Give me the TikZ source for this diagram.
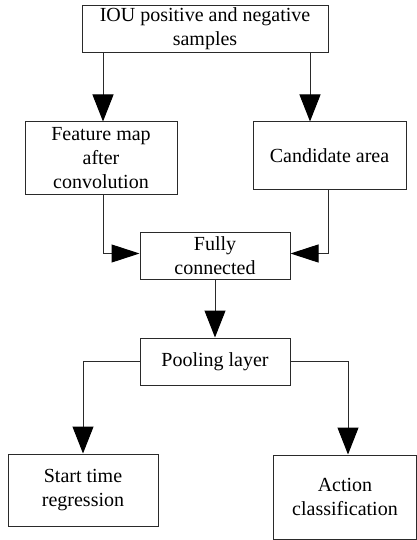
\documentclass[tikz,border=0pt]{standalone}
\usepackage{fontspec}
\setmainfont{Liberation Serif}
\usetikzlibrary{arrows.meta}
\definecolor{edge}{HTML}{2A2A2A}
\begin{document}
\begin{tikzpicture}[x=1pt,y=-1pt,
  box/.style={draw=edge, line width=1pt, align=center, font=\fontsize{20}{24}\selectfont, inner sep=0pt},
  varr/.style={draw=edge, line width=1pt, -{Triangle[width=21pt,length=27pt,color=black]}},
  harr/.style={draw=edge, line width=1pt, -{Triangle[width=18pt,length=28pt,color=black]}}]
\useasboundingbox (0,0) rectangle (417,540);
\node[box, minimum width=246pt, minimum height=47pt] (top) at (205,29) {IOU positive and negative\\samples};
\node[box, minimum width=152pt, minimum height=72pt] (feature) at (101,158) {Feature map\\after\\convolution};
\node[box, minimum width=153pt, minimum height=67pt] (cand) at (329.5,155.5) {Candidate area};
\node[box, minimum width=150pt, minimum height=47pt] (fully) at (215,255.5) {Fully\\connected};
\node[box, minimum width=150pt, minimum height=47pt] (pool) at (215,361.5) {Pooling layer};
\node[box, minimum width=150pt, minimum height=72pt] (start) at (83,490) {Start time\\regression};
\node[box, minimum width=143pt, minimum height=84pt] (action) at (345,497) {Action\\classification};
\draw[varr] ([xshift=-102pt]top.south) coordinate (a1) -- (a1 |- feature.north);
\draw[varr] ([xshift=105pt]top.south) coordinate (a2) -- (a2 |- cand.north);
\draw[harr] ([xshift=2pt]feature.south) |- ([yshift=2pt]fully.west);
\draw[harr] ([xshift=-1.5pt]cand.south) |- ([yshift=2pt]fully.east);
\draw[varr] (fully.south) -- (pool.north);
\draw[varr] (pool.west) -| (start.north);
\draw[varr] (pool.east) -| ([xshift=3pt]action.north);
\end{tikzpicture}
\end{document}
